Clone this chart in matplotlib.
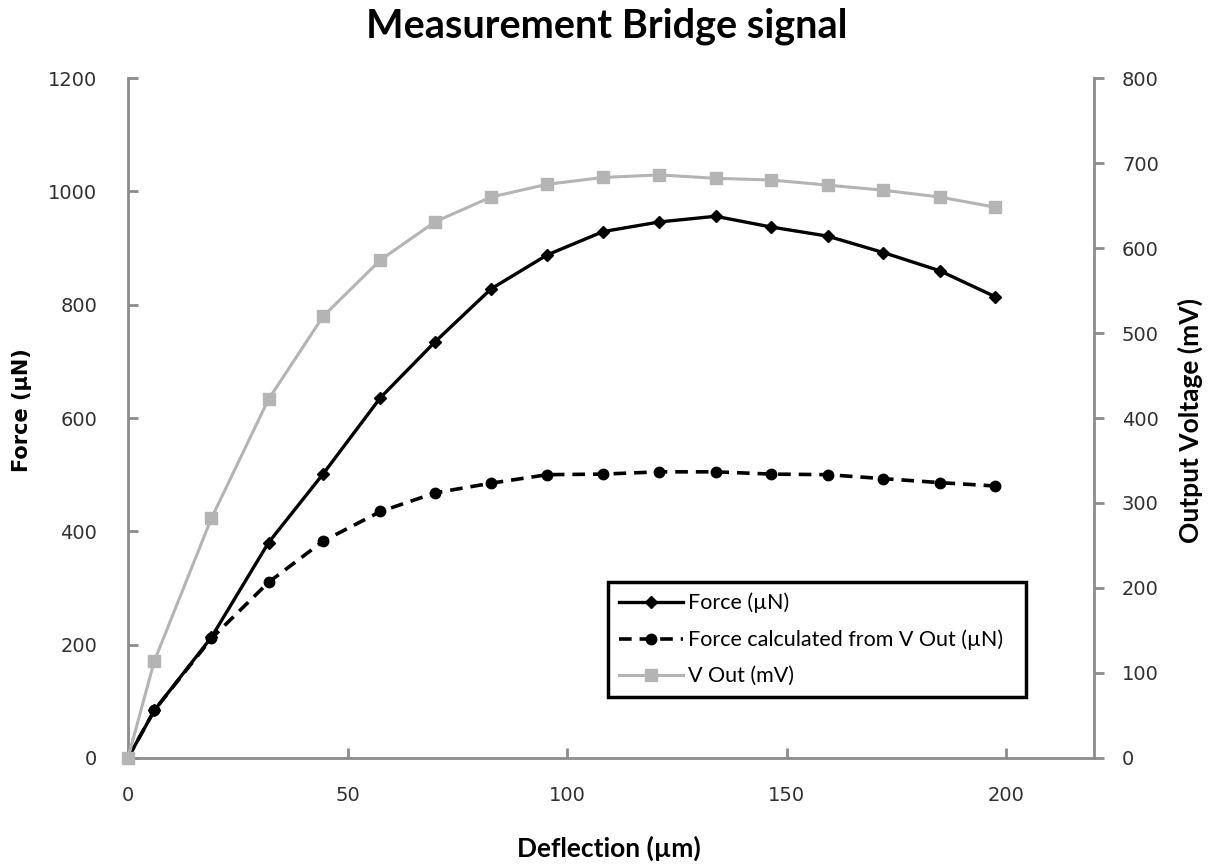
import matplotlib
matplotlib.use("Agg")
import matplotlib.pyplot as plt
from matplotlib.lines import Line2D

# Deflection of the beam (µm)
deflection = [0, 6, 19, 32, 44.5, 57.5, 70, 82.7, 95.5, 108.2, 121, 133.8,
              146.5, 159.3, 172, 184.8, 197.5]
# Measured force (µN)
force = [0, 84, 213, 380, 502, 636, 735, 828, 888, 929, 946, 956,
         937, 921, 892, 860, 814]
# Force derived from the bridge output voltage (µN)
force_calc = [0, 84, 211, 310, 383, 435, 468, 485, 500, 501, 505, 505,
              501, 500, 493, 486, 480]
# Bridge output voltage (mV)
v_out = [0, 114, 282, 422, 520, 586, 631, 660, 675, 683, 686, 682,
         680, 674, 668, 660, 648]

x_ticks = [0, 50, 100, 150, 200]
left_ticks = [0, 200, 400, 600, 800, 1000, 1200]
right_ticks = [0, 100, 200, 300, 400, 500, 600, 700, 800]

axis_grey = "#8c8c8c"
line_grey = "#b4b4b4"
tick_color = "#303030"

fig = plt.figure(figsize=(12.13, 8.64), dpi=100)
ax = fig.add_axes([0.1055, 0.1227, 0.7965, 0.787])
ax2 = ax.twinx()

ax.plot(deflection, force, color="black", lw=2.4, marker="D", ms=6,
        mfc="black", mec="black", zorder=3, clip_on=False)
ax.plot(deflection, force_calc, color="black", lw=2.6, ls=(0, (3.5, 2.2)),
        marker="o", ms=7.5, mfc="black", mec="black", zorder=3, clip_on=False)
ax2.plot(deflection, v_out, color=line_grey, lw=2.2, marker="s", ms=9,
         mfc=line_grey, mec=line_grey, zorder=2, clip_on=False)

ax.set_xlim(0, 220)
ax.set_ylim(0, 1200)
ax2.set_ylim(0, 800)
ax.set_xticks(x_ticks)
ax.set_yticks(left_ticks)
ax2.set_yticks(right_ticks)

for a in (ax, ax2):
    a.spines["top"].set_visible(False)
    for s in ("left", "right", "bottom"):
        a.spines[s].set_color(axis_grey)
        a.spines[s].set_linewidth(2)
        a.spines[s].set_zorder(1)
    a.patch.set_visible(False)
ax.spines["right"].set_visible(False)
ax2.spines["left"].set_visible(False)
ax2.spines["bottom"].set_visible(False)

ax.tick_params(axis="x", direction="in", length=7, width=2, color=axis_grey,
               labelsize=14, labelcolor=tick_color, pad=20)
ax.tick_params(axis="y", direction="in", length=7, width=2, color=axis_grey,
               labelsize=14, labelcolor=tick_color, pad=22)
ax2.tick_params(axis="y", direction="out", length=7, width=2, color=axis_grey,
                labelsize=14, labelcolor=tick_color, pad=13)

fig.text(0.5, 0.97, "Measurement Bridge signal", ha="center", va="center",
         fontsize=28.5, fontweight="bold", family="Lato")
fig.text(0.0185, 0.525, "Force (µN)", rotation=90, ha="center", va="center",
         fontsize=15, fontweight="bold", family="DejaVu Sans")
fig.text(0.981, 0.513, "Output Voltage (mV)", rotation=90, ha="center",
         va="center", fontsize=19, fontweight="bold", family="Lato")
fig.text(0.502, 0.018, "Deflection (µm)", ha="center", va="center",
         fontsize=19, fontweight="bold", family="Lato")

handles = [
    Line2D([], [], color="black", lw=2.4, marker="D", ms=6),
    Line2D([], [], color="black", lw=2.6, ls=(0, (3.5, 2.2)), marker="o", ms=7.5),
    Line2D([], [], color=line_grey, lw=2.2, marker="s", ms=9),
]
labels = ["Force (µN)", "Force calculated from V Out (µN)", "V Out (mV)"]
leg = ax2.legend(handles, labels, loc="lower left",
                 bbox_to_anchor=(0.497, 0.0897, 0.432, 0.197), mode="expand",
                 prop={"family": "Lato", "size": 15.5}, frameon=True,
                 fancybox=False, edgecolor="black", framealpha=1,
                 borderpad=0.5, labelspacing=0.75, handlelength=3.0,
                 handletextpad=0.2, borderaxespad=0)
leg.get_frame().set_linewidth(2.5)
leg.set_zorder(5)

fig.savefig("out.png", dpi=100)
